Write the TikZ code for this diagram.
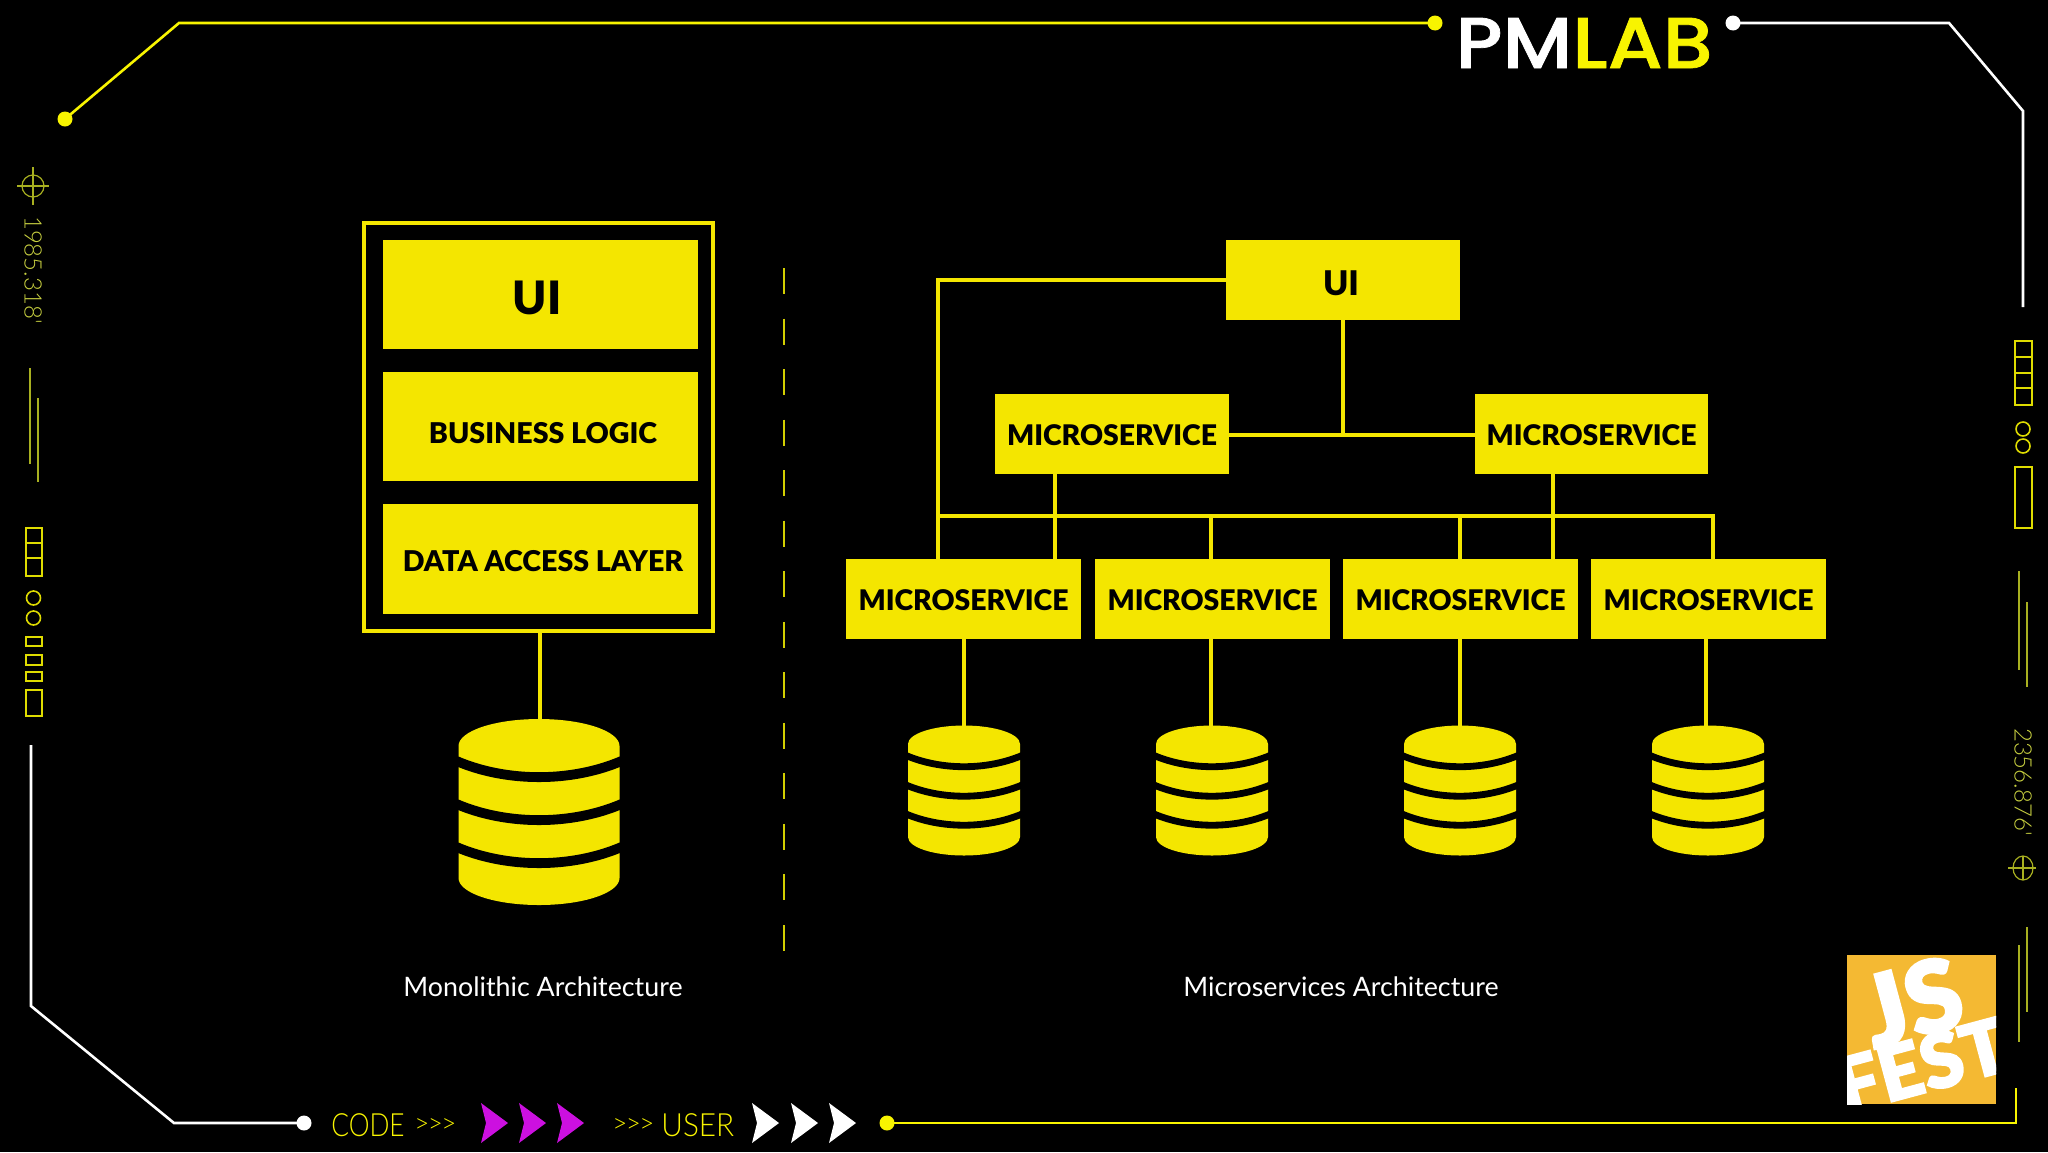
\documentclass[tikz,border=0pt]{standalone}
\usepackage{fontspec}
\setmainfont{Lato}
\newfontfamily\blk{Lato Black}
\newfontfamily\blkf[RawFeature={embolden=2}]{Lato Black}
\newfontfamily\lgt{Lato Light}
\newfontfamily\logo[RawFeature={embolden=1}]{Poppins Medium}
\definecolor{yy}{HTML}{F4E600}
\definecolor{ny}{HTML}{F8F400}
\definecolor{dim}{HTML}{A8B020}
\definecolor{dimtext}{HTML}{C8D040}
\definecolor{mg}{HTML}{CC10E0}
\definecolor{gold}{HTML}{F4B933}
\tikzset{
 conn/.style={draw=yy,line width=1.9pt},
 frameY/.style={draw=ny,line width=1.3pt},
 frameW/.style={draw=white,line width=1.3pt},
 thin/.style={draw=dim,line width=.6pt},
 deco/.style={draw=ny!90!black,line width=.8pt,fill=none},
}
\newcommand{\msbox}[5]{\path[fill=yy] (#2,#3) rectangle (#4,#5);
 \node[font=\blk\fontsize{14.2}{14.2}\selectfont,text=black,inner sep=0pt] (#1) at ({(#2+#4)/2},{(#3+#5)/2+1.5}) {MICROSERVICE};}
% cylinder: cx, top y, rx, ry, bottom side y; three band start heights
\newcommand{\dbshape}[8]{%
 \fill[yy] (#1-#3,#2) arc[start angle=180,end angle=360,x radius=#3,y radius=#4] -- (#1+#3,#5) arc[start angle=0,end angle=180,x radius=#3,y radius=#4] -- cycle;
 \pgfmathsetmacro{\sag}{#3*.2*4/3}
 \pgfmathsetmacro{\thk}{#3*.122*.5}
 \foreach \yy in {#6,#7,#8}{
  \draw[black,line width=\thk pt] (#1-#3-2,\yy) .. controls (#1-#3*.4,\yy+\sag) and (#1+#3*.4,\yy+\sag) .. (#1+#3+2,\yy);
 }}
\begin{document}
\begin{tikzpicture}[x=.5pt,y=-.5pt]
\useasboundingbox[fill=black] (0,0) rectangle (2048,1152);
% frame
\coordinate (tl) at (65,119); \coordinate (tl2) at (179,23); \coordinate (tr) at (1435,23);
\draw[frameY] (tl) -- (tl2) -- (tr);
\fill[ny] (tl) circle (7.5); \fill[ny] (tr) circle (7.5);
\coordinate (wr) at (1733,23);
\draw[frameW] (wr) -- (1949,23) -- (2023,111) -- (2023,307);
\fill[white] (wr) circle (7.5);
\coordinate (wl) at (304,1123);
\draw[frameW] (31,745) -- (31,1006) -- (174,1123) -- (wl);
\fill[white] (wl) circle (7.5);
\coordinate (yb) at (887,1123);
\draw[frameY] (yb) -- (2016,1123) -- (2016,1088);
\fill[ny] (yb) circle (7.5);
\draw[thin] (2027,927) -- (2027,1012);
\draw[thin] (2019,945) -- (2019,1042);
% left deco
\draw[thin] (33,167) -- (33,205) (17,186) -- (49,186);
\draw[thin] (33,186) circle (11);
\node[rotate=-90,text=dimtext,font=\lgt\fontsize{12}{12}\selectfont,inner sep=0pt] (lnum) at (33,270) {1985.318'};
\draw[thin] (30,368) -- (30,464) (38,398) -- (38,482);
\draw[deco] (26,528) rectangle (42,576) (26,543) -- (42,543) (26,558) -- (42,558);
\draw[deco] (33.5,598) circle (7) (33.5,618) circle (7);
\draw[deco] (26,637) rectangle (42,646) (26,655) rectangle (42,665) (26,672) rectangle (42,681) (26,690) rectangle (42,716);
% right deco
\draw[deco] (2015,341) rectangle (2032,405) (2015,357) -- (2032,357) (2015,373) -- (2032,373) (2015,388) -- (2032,388);
\draw[deco] (2023,429) circle (7) (2023,446) circle (7);
\draw[deco] (2015,467) rectangle (2032,528);
\draw[thin] (2019,571) -- (2019,670) (2027,602) -- (2027,687);
\node[rotate=-90,text=dimtext,font=\lgt\fontsize{12}{12}\selectfont,inner sep=0pt] (rnum) at (2023,782) {2356.876'};
\draw[thin] (2023,856) -- (2023,880) (2008,868) -- (2036,868);
\draw[thin] (2023,868) ellipse (10 and 12);
% logo
\node[font=\logo\fontsize{36}{36}\selectfont,inner sep=0pt,anchor=west,xscale=1.1,transform shape] (pmlab) at (1455,43) {\textcolor{white}{PM}\textcolor{ny}{LAB}};
% monolith
\node[draw=yy,line width=1.9pt,minimum width=174.5pt,minimum height=204pt,inner sep=0pt] (mono) at (538.5,427) {};
\path[fill=yy] (383,240) rectangle (698,349);
\path[fill=yy] (383,372) rectangle (698,481);
\path[fill=yy] (383,504) rectangle (698,614);
\node[font=\blk\fontsize{23}{23}\selectfont,inner sep=0pt] (mui) at (537,298) {UI};
\node[font=\blk\fontsize{14.3}{14.3}\selectfont,inner sep=0pt] (mbl) at (543,433) {BUSINESS LOGIC};
\node[font=\blk\fontsize{14.3}{14.3}\selectfont,inner sep=0pt] (mdal) at (543,561) {DATA ACCESS LAYER};
\coordinate (mdb) at (540,720);
\draw[conn] (mono.south -| mdb) -- (mdb);
\dbshape{539}{746}{80.5}{27}{878}{761}{804}{847}
% divider
\coordinate (d1) at (784,268); \coordinate (d2) at (784,951);
\draw[ny!85!black,line width=.9pt,dash pattern=on 13pt off 12.27pt] (d1) -- (d2);
% micro
\path[fill=yy] (1226,240) rectangle (1460,320);
\node[font=\blk\fontsize{17}{17}\selectfont,inner sep=0pt] (ui) at (1341,283) {UI};
\msbox{a}{995}{394}{1229}{474}
\msbox{b}{1475}{394}{1708}{474}
\msbox{c}{846}{559}{1081}{639}
\msbox{d}{1095}{559}{1330}{639}
\msbox{e}{1343}{559}{1578}{639}
\msbox{f}{1591}{559}{1826}{639}
\draw[conn] (1226,280) -- (938,280) -- (938,559);
\draw[conn] (938,516) -- (1713,516) -- (1713,559);
\draw[conn] (1343,320) -- (1343,435);
\draw[conn] (1229,435) -- (1475,435);
\draw[conn] (1055,474) -- (1055,559);
\draw[conn] (1553,474) -- (1553,559);
\draw[conn] (1211,516) -- (1211,559);
\draw[conn] (1460,516) -- (1460,559);
\draw[conn] (964,639) -- (964,727);
\draw[conn] (1211,639) -- (1211,727);
\draw[conn] (1460,639) -- (1460,727);
\draw[conn] (1706,639) -- (1706,727);
\foreach \c in {964,1212,1460,1708}{
 \dbshape{\c}{744}{56}{18.5}{837}{755.5}{785}{814}
}
% labels
\node[text=white,font=\fontsize{13.4}{13.4}\selectfont,inner sep=0pt] (l1) at (543,987) {Monolithic Architecture};
\node[text=white,font=\fontsize{13.4}{13.4}\selectfont,inner sep=0pt] (l2) at (1341,987) {Microservices Architecture};
% jsfest
\begin{scope}
\clip (1847,955) rectangle (1996,1104);
\fill[gold] (1847,955) rectangle (1996,1104);
\node[rotate=15,text=white,font=\blkf\fontsize{50}{50}\selectfont,inner sep=0pt] (js) at (1912,1002) {JS};
\node[rotate=15,text=white,font=\blkf\fontsize{38}{38}\selectfont,inner sep=0pt] (fest) at (1922,1065) {FEST};
\end{scope}
% bottom strip
\node[text=ny,font=\lgt\fontsize{16}{16}\selectfont,inner sep=0pt,anchor=west,xscale=.82,transform shape] (code) at (331,1125) {CODE};
\node[text=ny,font=\lgt\fontsize{13}{13}\selectfont,inner sep=0pt,anchor=west] (c2) at (414,1125) {>\kern-.8pt>\kern-.8pt>};
\node[text=ny,font=\lgt\fontsize{13}{13}\selectfont,inner sep=0pt,anchor=west] (u2) at (612,1125) {>\kern-.8pt>\kern-.8pt>};
\node[text=ny,font=\lgt\fontsize{16}{16}\selectfont,inner sep=0pt,anchor=west,xscale=.93,transform shape] (user) at (661,1125) {USER};
\foreach \x in {481,519,557}{ \fill[mg] (\x,1103) -- (\x+27,1123) -- (\x,1143) -- (\x+5,1123) -- cycle; }
\foreach \x in {752,791,829}{ \fill[white] (\x,1103) -- (\x+27,1123) -- (\x,1143) -- (\x+5,1123) -- cycle; }
\end{tikzpicture}
\end{document}
